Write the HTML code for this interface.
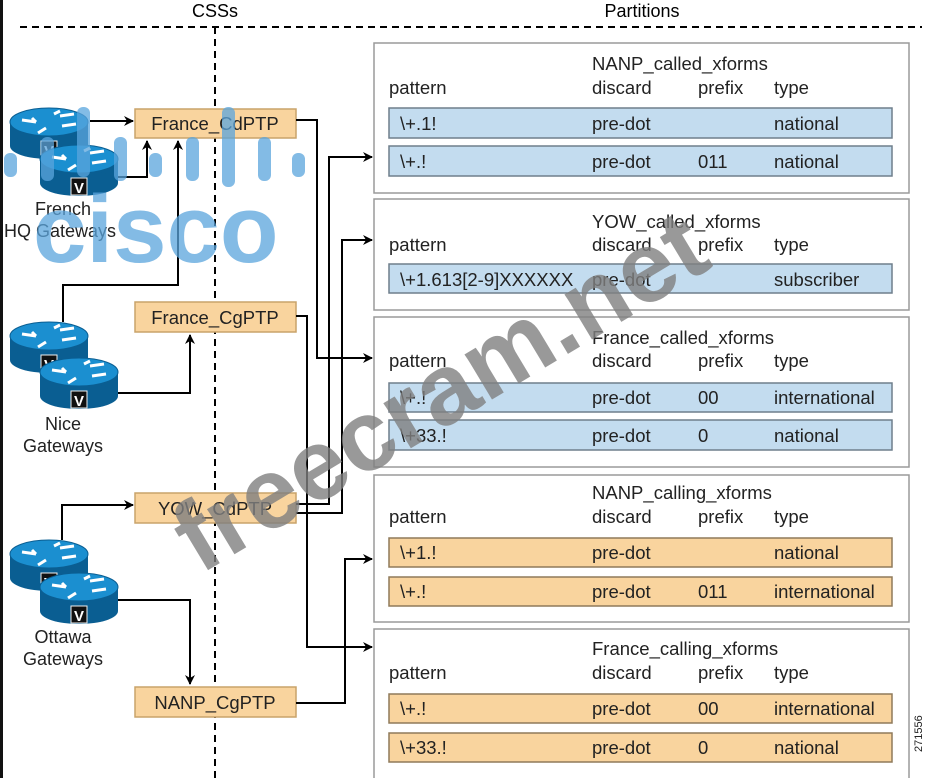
<!DOCTYPE html>
<html><head><meta charset="utf-8"><style>
html,body{margin:0;padding:0;background:#fff;}
svg{display:block;font-family:"Liberation Sans",Arial,sans-serif;}
</style></head><body>
<svg width="927" height="778" viewBox="0 0 927 778" xmlns="http://www.w3.org/2000/svg">
<defs>
<marker id="ar" markerWidth="10" markerHeight="10" refX="9" refY="5" orient="auto" markerUnits="userSpaceOnUse">
<path d="M0,0 L10,5 L0,10 L3,5 Z" fill="#000"/>
</marker>
<g id="rt">
<rect x="0" y="14" width="78" height="24" fill="#0a5e92"/>
<ellipse cx="39" cy="38" rx="39" ry="13" fill="#0a5e92"/>
<ellipse cx="39" cy="14" rx="39" ry="14" fill="#1b8fd0" stroke="#0a5e92" stroke-width="1"/>
<path d="M12,12 l14,2 M26,14 l-4,-4 M50,8 l14,-2 M66,16 l-14,2 M36,20 l-8,5 M44,6 l6,-3" stroke="#fff" stroke-width="3" fill="none"/>
<rect x="31" y="33" width="16" height="17" fill="#111" stroke="#eee" stroke-width="1"/>
<text x="39" y="48" font-size="15" font-weight="bold" fill="#fff" text-anchor="middle">V</text>
</g>
</defs>
<rect x="0" y="0" width="3" height="778" fill="#111"/>
<line x1="20" y1="27" x2="922" y2="27" stroke="#000" stroke-width="2" stroke-dasharray="7,5"/>
<line x1="215" y1="27" x2="215" y2="778" stroke="#000" stroke-width="2" stroke-dasharray="7,5"/>
<text x="215" y="17" font-size="18" text-anchor="middle">CSSs</text>
<text x="642" y="17" font-size="18" text-anchor="middle">Partitions</text>

<use href="#rt" x="10" y="108"/><use href="#rt" x="40" y="145"/>
<use href="#rt" x="10" y="322"/><use href="#rt" x="40" y="358"/>
<use href="#rt" x="10" y="540"/><use href="#rt" x="40" y="573"/>
<g font-size="18" text-anchor="middle" fill="#222">
<text x="63" y="215">French</text><text x="60" y="237">HQ Gateways</text>
<text x="63" y="430">Nice</text><text x="63" y="452">Gateways</text>
<text x="63" y="643">Ottawa</text><text x="63" y="665">Gateways</text>
</g>

<g fill="#f9d49e" stroke="#c9a36a" stroke-width="1.5">
<rect x="135" y="109" width="161" height="29"/>
<rect x="135" y="302" width="161" height="30"/>
<rect x="135" y="493" width="161" height="30"/>
<rect x="135" y="687" width="161" height="30"/>
</g>
<g font-size="18.5" text-anchor="middle" fill="#222">
<text x="215" y="130">France_CdPTP</text>
<text x="215" y="324">France_CgPTP</text>
<text x="215" y="515">YOW_CdPTP</text>
<text x="215" y="709">NANP_CgPTP</text>
</g>

<g stroke="#000" stroke-width="2" fill="none">
<path d="M90,121 H133" marker-end="url(#ar)"/>
<path d="M118,177 H147 V141" marker-end="url(#ar)"/>
<path d="M63,322 V285 H178 V141" marker-end="url(#ar)"/>
<path d="M118,393 H190 V335" marker-end="url(#ar)"/>
<path d="M62,540 V505 H133" marker-end="url(#ar)"/>
<path d="M118,600 H190 V684" marker-end="url(#ar)"/>
<path d="M296,120 H317 V358 H372" marker-end="url(#ar)"/>
<path d="M296,504 H329 V157 H372" marker-end="url(#ar)"/>
<path d="M296,513 H342 V240 H372" marker-end="url(#ar)"/>
<path d="M296,316 H307 V647 H372" marker-end="url(#ar)"/>
<path d="M296,703 H345 V559 H372" marker-end="url(#ar)"/>
</g>

<g fill="#fff" stroke="#9a9a9a" stroke-width="1.5">
<rect x="374" y="43" width="535" height="150"/>
<rect x="374" y="199" width="535" height="111"/>
<rect x="374" y="317" width="535" height="150"/>
<rect x="374" y="475" width="535" height="147"/>
<rect x="374" y="629" width="535" height="152"/>
</g>
<g stroke="#6f7f8c" stroke-width="1.5">
<rect x="389" y="108" width="503" height="30" fill="#c3dcef"/>
<rect x="389" y="146" width="503" height="30" fill="#c3dcef"/>
<rect x="389" y="264" width="503" height="29" fill="#c3dcef"/>
<rect x="389" y="383" width="503" height="29" fill="#c3dcef"/>
<rect x="389" y="420" width="503" height="30" fill="#c3dcef"/>
</g>
<g stroke="#8f7a5a" stroke-width="1.5" fill="#f9d49e">
<rect x="389" y="538" width="503" height="29"/>
<rect x="389" y="577" width="503" height="29"/>
<rect x="389" y="694" width="503" height="29"/>
<rect x="389" y="733" width="503" height="29"/>
</g>
<g font-size="18.5" fill="#222">
<text x="592" y="70">NANP_called_xforms</text>
<text x="389" y="94">pattern</text><text x="592" y="94">discard</text><text x="698" y="94">prefix</text><text x="774" y="94">type</text>
<text x="400" y="130">\+.1!</text><text x="592" y="130">pre-dot</text><text x="774" y="130">national</text>
<text x="400" y="168">\+.!</text><text x="592" y="168">pre-dot</text><text x="698" y="168">011</text><text x="774" y="168">national</text>

<text x="592" y="228">YOW_called_xforms</text>
<text x="389" y="251">pattern</text><text x="592" y="251">discard</text><text x="698" y="251">prefix</text><text x="774" y="251">type</text>
<text x="400" y="286">\+1.613[2-9]XXXXXX</text><text x="592" y="286">pre-dot</text><text x="774" y="286">subscriber</text>

<text x="592" y="344">France_called_xforms</text>
<text x="389" y="367">pattern</text><text x="592" y="367">discard</text><text x="698" y="367">prefix</text><text x="774" y="367">type</text>
<text x="400" y="404">\+.!</text><text x="592" y="404">pre-dot</text><text x="698" y="404">00</text><text x="774" y="404">international</text>
<text x="400" y="442">\+33.!</text><text x="592" y="442">pre-dot</text><text x="698" y="442">0</text><text x="774" y="442">national</text>

<text x="592" y="499">NANP_calling_xforms</text>
<text x="389" y="523">pattern</text><text x="592" y="523">discard</text><text x="698" y="523">prefix</text><text x="774" y="523">type</text>
<text x="400" y="559">\+1.!</text><text x="592" y="559">pre-dot</text><text x="774" y="559">national</text>
<text x="400" y="598">\+.!</text><text x="592" y="598">pre-dot</text><text x="698" y="598">011</text><text x="774" y="598">international</text>

<text x="592" y="655">France_calling_xforms</text>
<text x="389" y="679">pattern</text><text x="592" y="679">discard</text><text x="698" y="679">prefix</text><text x="774" y="679">type</text>
<text x="400" y="715">\+.!</text><text x="592" y="715">pre-dot</text><text x="698" y="715">00</text><text x="774" y="715">international</text>
<text x="400" y="754">\+33.!</text><text x="592" y="754">pre-dot</text><text x="698" y="754">0</text><text x="774" y="754">national</text>
</g>
<text x="922" y="752" font-size="11" fill="#222" transform="rotate(-90 922 752)">271556</text>

<!-- watermarks -->
<g fill="#5aa5dd" opacity="0.75">
<rect x="4" y="153" width="13" height="24" rx="6"/>
<rect x="41" y="137" width="13" height="44" rx="6"/>
<rect x="77" y="107" width="13" height="70" rx="6"/>
<rect x="114" y="137" width="13" height="44" rx="6"/>
<rect x="149" y="153" width="13" height="24" rx="6"/>
<rect x="186" y="137" width="13" height="44" rx="6"/>
<rect x="222" y="107" width="13" height="80" rx="6"/>
<rect x="258" y="137" width="13" height="44" rx="6"/>
<rect x="292" y="153" width="13" height="24" rx="6"/>
</g>
<text x="33" y="262" font-size="96" font-weight="bold" fill="#5aa5dd" opacity="0.75">cisco</text>
<text x="200" y="575" font-size="100" font-weight="bold" fill="#808080" opacity="0.8" transform="rotate(-31 200 575)">freecram.net</text>
</svg>
</body></html>
